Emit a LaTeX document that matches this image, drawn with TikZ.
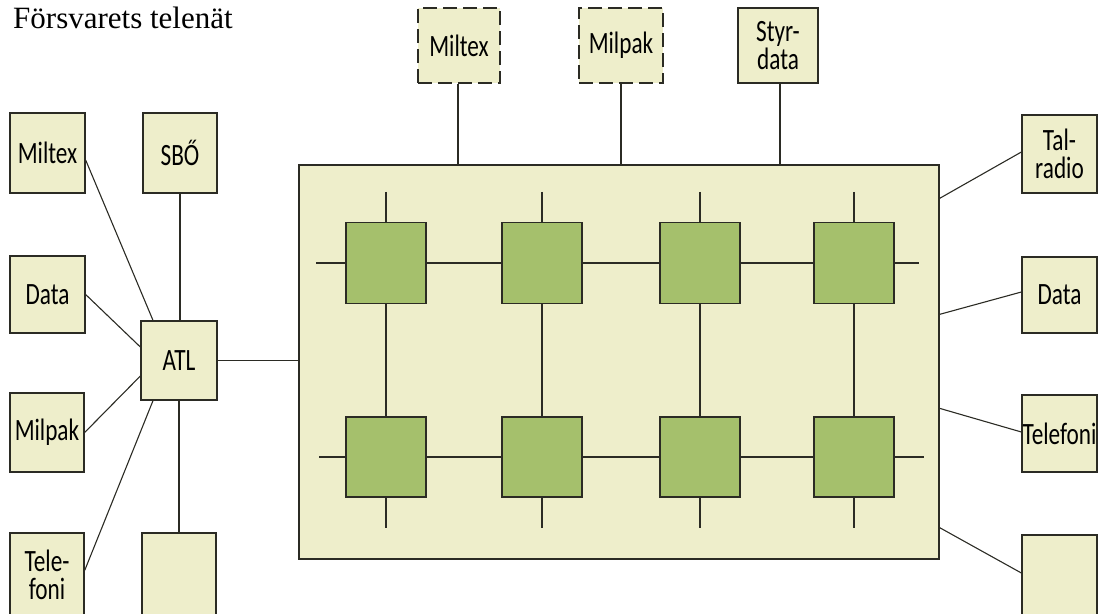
\documentclass[tikz,border=0pt]{standalone}
\usepackage{fontspec}
\setmainfont{Carlito}
\newfontfamily\handfont[FakeStretch=0.75]{Carlito}
\newfontfamily\titlefont{Liberation Serif}
\usetikzlibrary{calc}
\definecolor{cream}{HTML}{EEEECB}
\definecolor{leaf}{HTML}{A5C06C}
\definecolor{ink}{HTML}{2B2B24}
\begin{document}
\begin{tikzpicture}[x=1pt,y=-1pt,
  box/.style={draw=ink,fill=cream,line width=1.3pt,inner sep=0pt,minimum width=75pt,minimum height=80pt,font=\handfont\fontsize{31}{28}\selectfont,align=center},
  dbox/.style={box,dash pattern=on 14pt off 6pt},
  sw/.style={draw=ink,fill=leaf,line width=1.3pt,minimum width=80pt,minimum height=81pt,inner sep=0pt},
  wire/.style={draw=ink,line width=1.1pt}]
\useasboundingbox (0,0) rectangle (1099,613);

% title
\node[anchor=base west,inner sep=0pt,font=\titlefont\fontsize{31}{32}\selectfont] (title) at (13,28) {Försvarets telenät};

% central network frame
\node[draw=ink,fill=cream,line width=1.3pt,inner sep=0pt,minimum width=640pt,minimum height=394pt] (big) at (619,362) {};

% left boxes
\node[box] (lMiltex) at (47.5,153) {Miltex};
\node[box,minimum width=74pt] (lSBO) at (180,153) {SBŐ};
\node[box,minimum height=77pt] (lData) at (47.5,294.5) {Data};
\node[box,minimum width=76pt,minimum height=79pt] (ATL) at (179,360.5) {ATL};
\node[box,minimum width=74pt,minimum height=79pt] (lMilpak) at (47,432.5) {Milpak};
\node[box,minimum width=74pt,minimum height=83pt] (lTele) at (47,574.5) {Tele-\\foni};
\node[box,minimum width=74pt,minimum height=83pt] (lEmpty) at (179,574.5) {};

% top boxes
\node[dbox,minimum width=82pt,minimum height=75pt] (tMiltex) at (459,45.5) {Miltex};
\node[dbox,minimum width=84pt,minimum height=75pt] (tMilpak) at (621,45.5) {Milpak};
\node[box,minimum width=80pt,minimum height=75pt] (tStyr) at (778,45.5) {Styr-\\data};

% right boxes
\node[box,minimum height=78pt] (rTal) at (1059.5,154) {Tal-\\radio};
\node[box,minimum height=76pt] (rData) at (1059.5,295) {Data};
\node[box,minimum height=77pt] (rTele) at (1059.5,433.5) {Telefoni};
\node[box,minimum height=82pt] (rEmpty) at (1059.5,576) {};

% left connectors
\draw[wire] ([yshift=-7pt]lMiltex.east) -- ([xshift=-26pt]ATL.north);
\draw[wire] (lData.east) -- ([yshift=13.5pt]ATL.west);
\draw[wire] (lMilpak.east) -- ([yshift=-15.5pt]ATL.west);
\draw[wire] ([yshift=4pt]lTele.east) -- ([xshift=-26pt]ATL.south);
\draw[wire] (lSBO.south) -- (lSBO.south |- ATL.north);
\draw[wire] (ATL.south) -- (ATL.south |- lEmpty.north);
\draw[wire] (ATL.east) -- (ATL.east -| big.west);

% top connectors
\draw[wire] ([xshift=-1pt]tMiltex.south) -- ([xshift=-1pt]tMiltex.south |- big.north);
\draw[wire] (tMilpak.south) -- (tMilpak.south |- big.north);
\draw[wire] ([xshift=2pt]tStyr.south) -- ([xshift=2pt]tStyr.south |- big.north);

% right connectors
\draw[wire] ([yshift=-34pt]big.north east) -- ([yshift=2pt]rTal.west);
\draw[wire] ([yshift=-150pt]big.north east) -- ([yshift=3pt]rData.west);
\draw[wire] ([yshift=-244pt]big.north east) -- ([yshift=1.5pt]rTele.west);
\draw[wire] ([yshift=32pt]big.south east) -- ([yshift=3pt]rEmpty.west);

% switching nodes
\node[sw] (g11) at (386,263) {};
\node[sw] (g12) at (542,263) {};
\node[sw] (g13) at (700,263) {};
\node[sw] (g14) at (854,263) {};
\node[sw,minimum height=80pt] (g21) at (386,457) {};
\node[sw,minimum height=80pt] (g22) at (542,457) {};
\node[sw,minimum height=80pt] (g23) at (700,457) {};
\node[sw,minimum height=80pt] (g24) at (854,457) {};

% grid wires, rows
\draw[wire] ([xshift=-29pt]g11.west) -- (g11.west);
\draw[wire] (g11.east) -- (g12.west);
\draw[wire] (g12.east) -- (g13.west);
\draw[wire] (g13.east) -- (g14.west);
\draw[wire] (g14.east) -- ([xshift=24pt]g14.east);
\draw[wire] ([xshift=-26pt]g21.west) -- (g21.west);
\draw[wire] (g21.east) -- (g22.west);
\draw[wire] (g22.east) -- (g23.west);
\draw[wire] (g23.east) -- (g24.west);
\draw[wire] (g24.east) -- ([xshift=29pt]g24.east);

% grid wires, columns
\foreach \c in {1,2,3,4}{
  \draw[wire] ([yshift=30pt]g1\c.north) -- (g1\c.north);
  \draw[wire] (g1\c.south) -- (g2\c.north);
  \draw[wire] (g2\c.south) -- ([yshift=-30pt]g2\c.south);
}
\end{tikzpicture}
\end{document}
